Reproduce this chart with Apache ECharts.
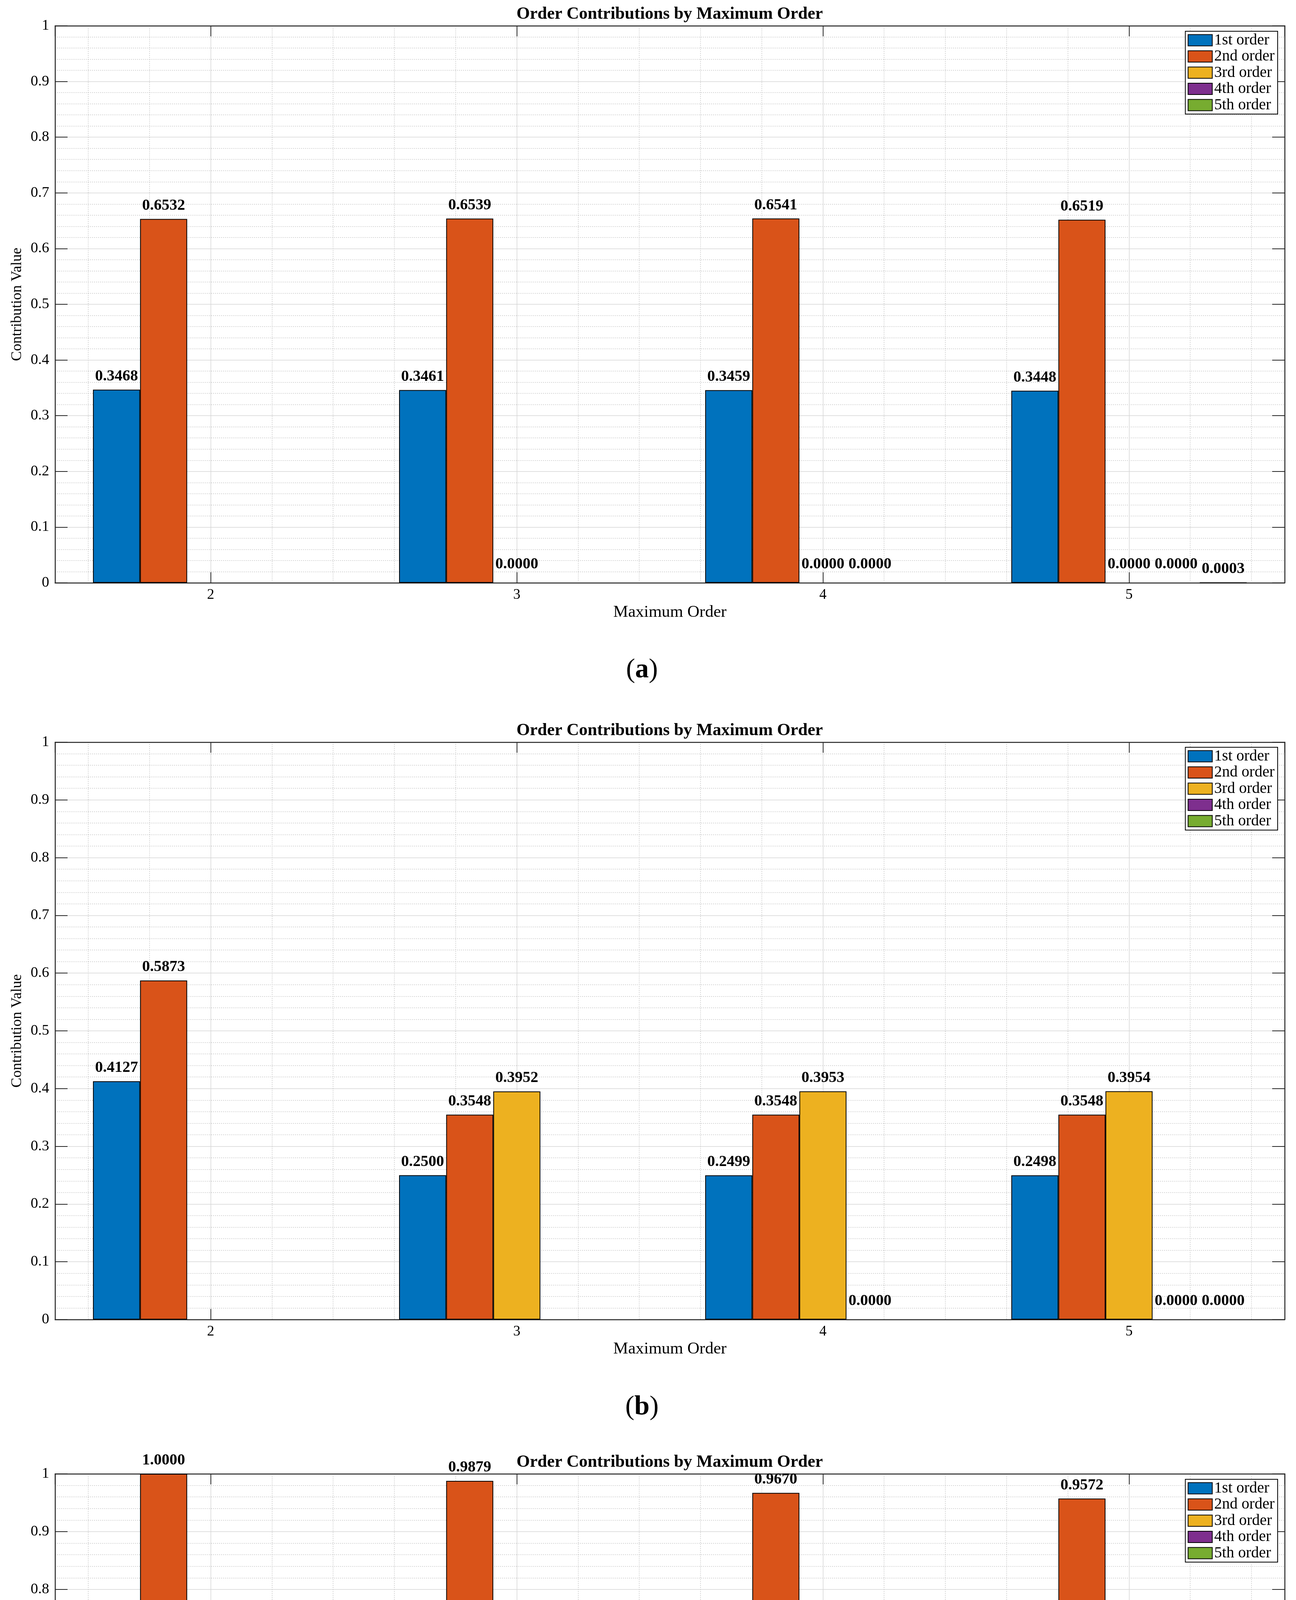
<!DOCTYPE html>
<html>
<head>
<meta charset="utf-8">
<script src="https://cdn.jsdelivr.net/npm/echarts@6/dist/echarts.min.js"></script>
<style>
html,body{margin:0;padding:0;background:#fff;}
#chart{width:3319px;height:5554px;}
</style>
</head>
<body>
<div id="chart"></div>
<script>
// ---------- data ----------
const categories = [2, 3, 4, 5];
const seriesNames = ['1st order', '2nd order', '3rd order', '4th order', '5th order'];
const chartTitle = 'Order Contributions by Maximum Order';
const xAxisTitle = 'Maximum Order';
const yAxisTitle = 'Contribution Value';
const panelLetters = ['a', 'b', 'c'];

// panel (a)
const a1 = [0.3468, 0.3461, 0.3459, 0.3448];
const a2 = [0.6532, 0.6539, 0.6541, 0.6519];
const a3 = [null, 0.0000, 0.0000, 0.0000];
const a4 = [null, null, 0.0000, 0.0000];
const a5 = [null, null, null, 0.0003];
// panel (b)
const b1 = [0.4127, 0.2500, 0.2499, 0.2498];
const b2 = [0.5873, 0.3548, 0.3548, 0.3548];
const b3 = [null, 0.3952, 0.3953, 0.3954];
const b4 = [null, null, 0.0000, 0.0000];
const b5 = [null, null, null, 0.0000];
// panel (c)
const c1 = [0.0000, 0.0000, 0.0000, 0.0000];
const c2 = [1.0000, 0.9879, 0.9670, 0.9572];
const c3 = [null, 0.0121, 0.0118, 0.0117];
const c4 = [null, null, 0.0212, 0.0210];
const c5 = [null, null, null, 0.0101];

const panels = [[a1, a2, a3, a4, a5], [b1, b2, b3, b4, b5], [c1, c2, c3, c4, c5]];

// ---------- styling / layout ----------
const colors = ['#0072BD', '#D95319', '#EDB120', '#7E2F8E', '#77AC30'];
const FONT = '"Liberation Serif", "Times New Roman", Times, serif';
const XMIN = 1.4915, XMAX = 5.5085;
const layout = [
  { top: 66,   height: 1426, legendTop: 80,   subY: 1716 },
  { top: 1900, height: 1478, legendTop: 1913, subY: 3603 },
  { top: 3773, height: 1480, legendTop: 3787, subY: 5484 }
];
const AXIS_COLOR = '#262626';

const option = {
  animation: false,
  backgroundColor: '#ffffff',
  grid: [], xAxis: [], yAxis: [], series: [], legend: [], graphic: []
};

layout.forEach((L, p) => {
  option.grid.push({ left: 141, right: 29, top: L.top, height: L.height, containLabel: false });

  // bottom x axis (used by bars)
  option.xAxis.push({
    type: 'value', gridIndex: p, min: XMIN, max: XMAX, splitNumber: 4, position: 'bottom',
    name: xAxisTitle, nameLocation: 'middle', nameGap: 54,
    nameTextStyle: { fontFamily: FONT, fontSize: 43, color: '#000' },
    axisLine: { show: true, onZero: false, lineStyle: { color: AXIS_COLOR, width: 2.5 } },
    axisTick: { show: true, inside: true, length: 27, lineStyle: { color: AXIS_COLOR, width: 2 } },
    axisLabel: {
      show: true, margin: 13, fontFamily: FONT, fontSize: 37, color: '#000',
      showMinLabel: false, showMaxLabel: false,
      formatter: v => (categories.indexOf(v) >= 0 ? String(v) : '')
    },
    splitLine: { show: true, lineStyle: { color: '#d6d6d6', width: 1.5 } },
    minorTick: { show: false, splitNumber: 5 },
    minorSplitLine: { show: true, lineStyle: { color: '#bcbcbc', width: 1.5, type: [2, 3] } }
  });
  // top mirrored x axis
  option.xAxis.push({
    type: 'value', gridIndex: p, min: XMIN, max: XMAX, splitNumber: 4, position: 'top',
    axisLine: { show: true, onZero: false, lineStyle: { color: AXIS_COLOR, width: 2.5 } },
    axisTick: { show: true, inside: true, length: 27, lineStyle: { color: AXIS_COLOR, width: 2 } },
    axisLabel: { show: false }, splitLine: { show: false }
  });
  // left y axis
  option.yAxis.push({
    type: 'value', gridIndex: p, min: 0, max: 1, interval: 0.1, position: 'left',
    name: yAxisTitle, nameLocation: 'middle', nameGap: 78, nameRotate: 90,
    nameTextStyle: { fontFamily: FONT, fontSize: 38, color: '#000' },
    axisLine: { show: true, lineStyle: { color: AXIS_COLOR, width: 2.5 } },
    axisTick: { show: true, inside: true, length: 32, lineStyle: { color: AXIS_COLOR, width: 2 } },
    axisLabel: { show: true, margin: 15, fontFamily: FONT, fontSize: 38, color: '#000' },
    splitLine: { show: true, lineStyle: { color: '#d6d6d6', width: 1.5 } },
    minorTick: { show: false, splitNumber: 5 },
    minorSplitLine: { show: true, lineStyle: { color: '#bcbcbc', width: 1.5, type: [2, 3] } }
  });
  // right mirrored y axis
  option.yAxis.push({
    type: 'value', gridIndex: p, min: 0, max: 1, interval: 0.1, position: 'right',
    axisLine: { show: true, lineStyle: { color: AXIS_COLOR, width: 2.5 } },
    axisTick: { show: true, inside: true, length: 32, lineStyle: { color: AXIS_COLOR, width: 2 } },
    axisLabel: { show: false }, splitLine: { show: false }
  });

  panels[p].forEach((arr, k) => {
    const data = [];
    arr.forEach((v, i) => {
      if (v === null) return;
      const item = { value: [categories[i], v], label: { distance: v === 0 ? 27.5 : 14 } };
      if (v === 0) item.itemStyle = { borderWidth: 0 };
      data.push(item);
    });
    option.series.push({
      type: 'bar', name: seriesNames[k], xAxisIndex: p * 2, yAxisIndex: p * 2,
      data: data, barGap: '0%', barCategoryGap: '23.08%',
      itemStyle: { color: colors[k], borderColor: '#000', borderWidth: 2 },
      label: {
        show: true, position: 'top', distance: 14,
        formatter: pr => pr.value[1].toFixed(4),
        fontFamily: FONT, fontWeight: 'bold', fontSize: 40, color: '#000'
      },
      emphasis: { disabled: true }
    });
  });

  option.legend.push({
    orient: 'vertical', right: 47, top: L.legendTop, data: seriesNames,
    icon: 'rect', itemWidth: 62, itemHeight: 29, itemGap: 1.5,
    padding: [3, 8, 3, 6], borderColor: '#000', borderWidth: 2, backgroundColor: '#fff',
    selectedMode: false,
    textStyle: { fontFamily: FONT, fontSize: 40, color: '#000' }
  });

  option.graphic.push({
    type: 'text', x: 1715, y: L.top - 29, z: 10,
    style: {
      text: chartTitle, font: 'bold 44px ' + FONT, fill: '#000',
      textAlign: 'center', textVerticalAlign: 'middle', align: 'center', verticalAlign: 'middle'
    }
  });
  option.graphic.push({
    type: 'text', x: 1644, y: L.subY, z: 10,
    style: {
      text: '{n|(}{b|' + panelLetters[p] + '}{n|)}',
      rich: {
        n: { fontFamily: FONT, fontSize: 70, color: '#000' },
        b: { fontFamily: FONT, fontSize: 70, fontWeight: 'bold', color: '#000' }
      },
      fill: '#000',
      textAlign: 'center', textVerticalAlign: 'middle', align: 'center', verticalAlign: 'middle'
    }
  });
});

const chart = echarts.init(document.getElementById('chart'), null, { renderer: 'canvas', width: 3319, height: 5554 });
chart.setOption(option);
</script>
</body>
</html>
